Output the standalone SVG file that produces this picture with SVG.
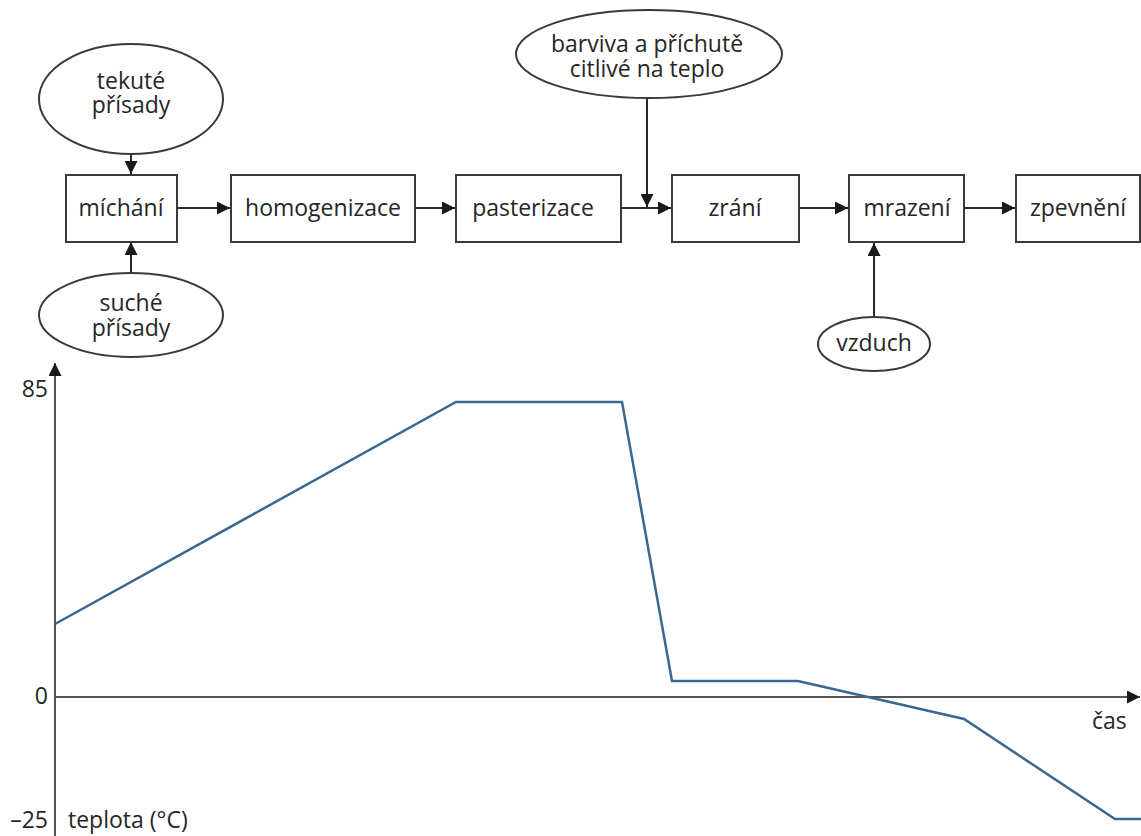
<svg xmlns="http://www.w3.org/2000/svg" width="1141" height="836" viewBox="0 0 1141 836">
<style>
.box{fill:#fff;stroke:#3a3a3a;stroke-width:2}
.ell{fill:#fff;stroke:#3a3a3a;stroke-width:2}
.t{font-family:"Open Sans","Liberation Sans",sans-serif;font-size:23px;fill:#262626;text-anchor:middle}
.ax{font-family:"Open Sans","Liberation Sans",sans-serif;font-size:23px;fill:#262626}
.c{stroke:#2a2a2a;stroke-width:2;fill:none}
</style>
<defs>
<marker id="ah2" viewBox="0 0 10 10" refX="10" refY="5" markerWidth="13" markerHeight="13" orient="auto" markerUnits="userSpaceOnUse">
<path d="M0,0 L10,5 L0,10 z" fill="#1a1a1a"/>
</marker>
</defs>
<g id="connectors">
<line class="c" x1="131" y1="154" x2="131" y2="174" marker-end="url(#ah2)"/>
<line class="c" x1="131" y1="273" x2="131" y2="242" marker-end="url(#ah2)"/>
<line class="c" x1="177" y1="208" x2="230" y2="208" marker-end="url(#ah2)"/>
<line class="c" x1="415" y1="208" x2="455" y2="208" marker-end="url(#ah2)"/>
<line class="c" x1="621" y1="208" x2="671" y2="208" marker-end="url(#ah2)"/>
<line class="c" x1="647" y1="98" x2="647" y2="207" marker-end="url(#ah2)"/>
<line class="c" x1="799" y1="208" x2="848" y2="208" marker-end="url(#ah2)"/>
<line class="c" x1="964" y1="208" x2="1015" y2="208" marker-end="url(#ah2)"/>
<line class="c" x1="874" y1="317" x2="874" y2="243" marker-end="url(#ah2)"/>
</g>
<g id="n-tekute"><ellipse class="ell" cx="131" cy="99" rx="92" ry="55"/><text class="t" x="131" y="89">tekuté</text><text class="t" x="131" y="113">přísady</text></g>
<g id="n-suche"><ellipse class="ell" cx="131" cy="315" rx="92" ry="42"/><text class="t" x="131" y="311">suché</text><text class="t" x="131" y="336">přísady</text></g>
<g id="n-michani"><rect class="box" x="66" y="175" width="111" height="67"/><text class="t" x="121" y="216">míchání</text></g>
<g id="n-homogenizace"><rect class="box" x="231" y="175" width="184" height="67"/><text class="t" x="323" y="216">homogenizace</text></g>
<g id="n-pasterizace"><rect class="box" x="456" y="175" width="165" height="67"/><text class="t" x="533" y="216">pasterizace</text></g>
<g id="n-barviva"><ellipse class="ell" cx="649" cy="54" rx="133" ry="44"/><text class="t" x="647" y="52">barviva a příchutě</text><text class="t" x="647" y="77">citlivé na teplo</text></g>
<g id="n-zrani"><rect class="box" x="672" y="175" width="127" height="67"/><text class="t" x="735" y="216">zrání</text></g>
<g id="n-mrazeni"><rect class="box" x="849" y="175" width="115" height="67"/><text class="t" x="907" y="216">mrazení</text></g>
<g id="n-zpevneni"><rect class="box" x="1016" y="175" width="124" height="67"/><text class="t" x="1078" y="216">zpevnění</text></g>
<g id="n-vzduch"><ellipse class="ell" cx="874" cy="344" rx="56" ry="27"/><text class="t" x="874" y="351">vzduch</text></g>
<g id="chart">
<line x1="55" y1="836" x2="55" y2="363" stroke="#555" stroke-width="2" marker-end="url(#ah2)"/>
<line x1="55" y1="697" x2="1140" y2="697" stroke="#555" stroke-width="2" marker-end="url(#ah2)"/>
<polyline points="55,624 456,402 622,402 672,681 798,681 964,719 1115,819 1141,819" fill="none" stroke="#3a6890" stroke-width="2.5" stroke-linejoin="miter"/>
<text class="ax" x="48" y="397" text-anchor="end">85</text>
<text class="ax" x="48" y="704" text-anchor="end">0</text>
<text class="ax" x="48" y="828" text-anchor="end">–25</text>
<text class="ax" x="68" y="828">teplota (°C)</text>
<text class="ax" x="1092" y="729">čas</text>
</g>
</svg>
